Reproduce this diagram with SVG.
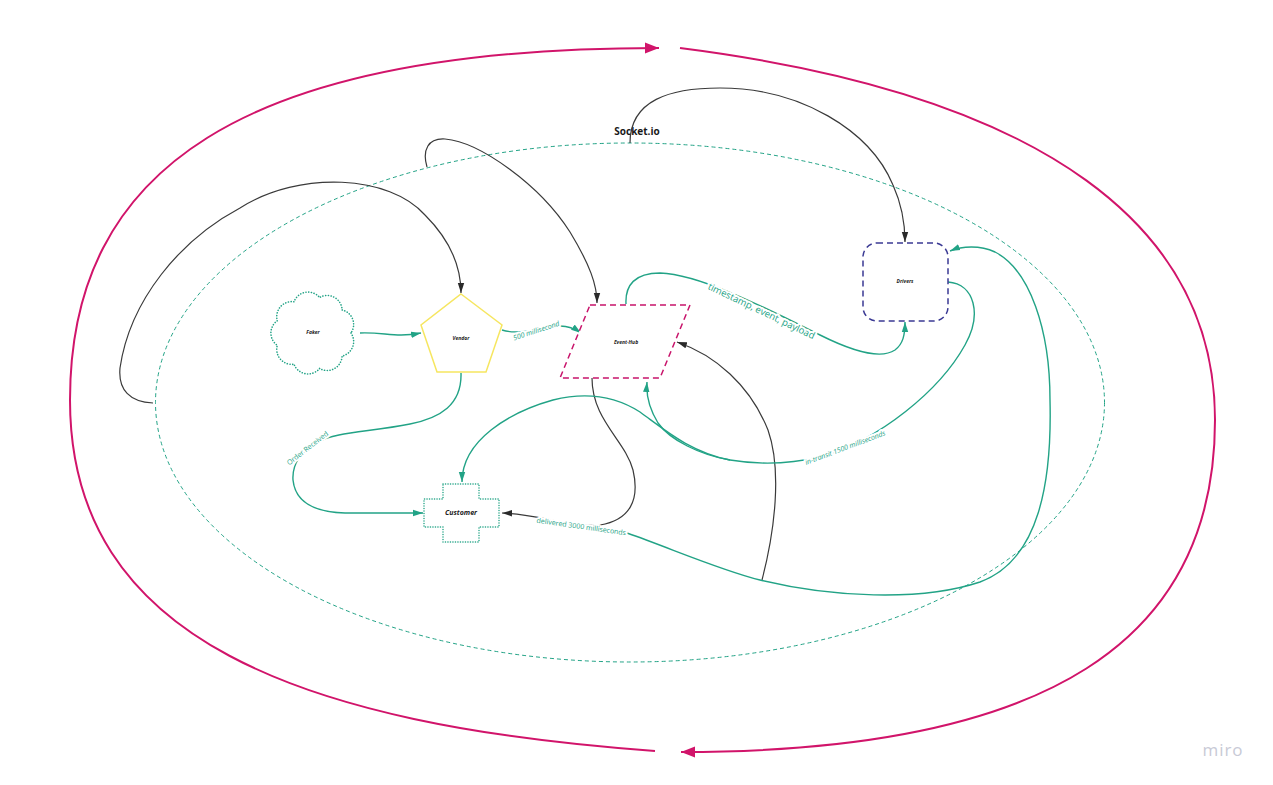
<svg xmlns="http://www.w3.org/2000/svg" width="1273" height="785" viewBox="0 0 1273 785">
<style>
.g{fill:none;stroke:#22a386;stroke-width:1.4}
.k{fill:none;stroke:#3a3a3a;stroke-width:1.2}
.m{fill:none;stroke:#d1146a;stroke-width:2}
.lbl{font-family:"Open Sans","Liberation Sans",sans-serif;fill:#22a386;stroke:#fff;stroke-width:4;paint-order:stroke;stroke-linejoin:round}
.nl{font-family:"Open Sans","Liberation Sans",sans-serif;font-weight:bold;font-style:italic;fill:#222;text-anchor:middle}
</style>
<defs>
<marker id="ag" markerUnits="userSpaceOnUse" markerWidth="10" markerHeight="8" viewBox="0 0 10 8" refX="10" refY="4" orient="auto"><path d="M0,0.8 L10,4 L0,7.2 z" fill="#22a386"/></marker>
<marker id="ak" markerUnits="userSpaceOnUse" markerWidth="10" markerHeight="8" viewBox="0 0 10 8" refX="10" refY="4" orient="auto"><path d="M0,0.8 L10,4 L0,7.2 z" fill="#2a2a2a"/></marker>
<marker id="am" markerUnits="userSpaceOnUse" markerWidth="14" markerHeight="12" viewBox="0 0 14 12" refX="14" refY="6" orient="auto"><path d="M0,0.5 L14,6 L0,11.5 z" fill="#d1146a"/></marker>
</defs>
<rect width="1273" height="785" fill="#fff"/>

<g id="socketio">
<ellipse cx="630" cy="402.5" rx="474.5" ry="259.5" fill="none" stroke="#22a386" stroke-width="1" stroke-dasharray="4 3"/>
<text x="637" y="135" font-family="'Open Sans','Liberation Sans',sans-serif" font-size="10" font-weight="bold" fill="#1a1a1a" text-anchor="middle">Socket.io</text>
</g>

<g id="connectors">
<path class="m" d="M655,751 C 300,725 70,640 70,400 C 70,170 240,48 659,48" marker-end="url(#am)"/>
<path class="m" d="M680,48 C 1050,95 1215,230 1215,420 C 1215,640 1050,752 681,752" marker-end="url(#am)"/>

<path class="k" d="M153,403 C 130,402 118,390 120,368 C 130,300 180,240 240,208 C 300,170 390,175 425,215 C 450,240 461,265 461,293" marker-end="url(#ak)"/>
<path class="k" d="M427,167 C 422,150 428,138 445,139 C 480,142 540,185 570,232 C 590,265 597,285 597,303" marker-end="url(#ak)"/>
<path class="k" d="M630,143 C 630,100 670,88 720,88 C 800,88 870,130 893,185 C 902,205 905,225 905,242" marker-end="url(#ak)"/>
<path class="k" d="M762,580 C 775,530 782,470 768,430 C 750,385 715,355 677,342" marker-end="url(#ak)"/>
<path class="k" d="M592,378 C 592,420 625,440 633,470 C 640,500 630,520 600,525 C 570,528 540,514 502,513" marker-end="url(#ak)"/>

<path class="g" d="M360,333 C 385,332 395,338 421,333" marker-end="url(#ag)"/>
<path class="g" d="M502,330 C 520,336 545,326 560,326 C 568,326 574,328 581,333" marker-end="url(#ag)"/>
<path class="g" d="M461,373 C 462,405 440,418 410,424 C 370,432 335,432 318,442 C 300,452 292,465 293,480 C 295,500 310,512 345,513 L 423,513" marker-end="url(#ag)"/>
<path class="g" d="M626,304 C 625,285 635,273 660,273 C 700,274 770,310 820,335 C 850,350 880,360 895,350 C 903,344 905,335 905,322" marker-end="url(#ag)"/>
<path class="g" d="M948,282 C 975,284 982,315 965,345 C 940,390 880,440 820,457 C 790,464 760,465 730,460 C 700,455 670,440 658,423 C 650,410 646,395 647,382" marker-end="url(#ag)"/>
<path class="g" d="M730,460 C 690,452 665,430 640,412 C 615,396 585,392 553,400 C 510,412 462,440 462,482" marker-end="url(#ag)"/>
<path class="g" d="M627,533 C 670,548 720,570 760,580 C 830,597 920,602 980,582 C 1040,560 1052,480 1050,400 C 1050,330 1030,270 995,252 C 980,245 962,246 950,251" marker-end="url(#ag)"/>

<text class="lbl" font-size="7" font-style="italic" text-anchor="middle" transform="translate(537,333) rotate(-18)">500 millisecond</text>
<text class="lbl" font-size="7" text-anchor="middle" transform="translate(309,450) rotate(-38)">Order Received</text>
<text class="lbl" font-size="9.5" text-anchor="middle" transform="translate(760,314) rotate(25.6)">timestamp, event, payload</text>
<text class="lbl" font-size="7" font-style="italic" text-anchor="middle" transform="translate(846,450) rotate(-20.6)">in-transit 1500 milliseconds</text>
<text class="lbl" font-size="7" text-anchor="middle" transform="translate(581,529) rotate(8)">delivered 3000 milliseconds</text>
</g>

<g id="faker">
<path d="M351,333 A15,15 0 0 1 342.1,356.1 A15,15 0 0 1 319.6,368.5 A15,15 0 0 1 294,364.2 A15,15 0 0 1 277.3,345.3 A15,15 0 0 1 277.3,320.7 A15,15 0 0 1 294,301.8 A15,15 0 0 1 319.6,297.5 A15,15 0 0 1 342.1,309.9 A15,15 0 0 1 351,333 Z" fill="#fff" stroke="#22a386" stroke-width="1.6" stroke-dasharray="0.1 2.6" stroke-linecap="round"/>
<text class="nl" x="313" y="334" font-size="5">Faker</text>
</g>

<g id="vendor">
<polygon points="461,294 502,325 486,372 437,372 421,325" fill="#fff" stroke="#f6e660" stroke-width="1.5"/>
<text class="nl" x="461" y="340" font-size="5">Vendor</text>
</g>

<g id="event-hub">
<polygon points="590,305 690,305 660,378 560,378" fill="#fff" stroke="#c8146b" stroke-width="1.5" stroke-dasharray="6 4"/>
<text class="nl" x="626" y="344" font-size="5">Event-Hub</text>
</g>

<g id="drivers">
<rect x="863" y="243" width="85" height="78" rx="14" fill="#fff" stroke="#3b3a94" stroke-width="1.5" stroke-dasharray="6 4"/>
<text class="nl" x="905" y="283" font-size="5">Drivers</text>
</g>

<g id="customer">
<path d="M443,484 H479 V499 H499 V527 H479 V542 H443 V527 H424 V499 H443 Z" fill="#fff" stroke="#22a386" stroke-width="1.5" stroke-dasharray="0.1 2.4" stroke-linecap="round"/>
<text class="nl" x="461" y="515" font-size="7">Customer</text>
</g>

<text x="1223" y="756" font-family="'Open Sans','Liberation Sans',sans-serif" font-size="17" fill="#c8cad6" text-anchor="middle" letter-spacing="1">miro</text>
</svg>
